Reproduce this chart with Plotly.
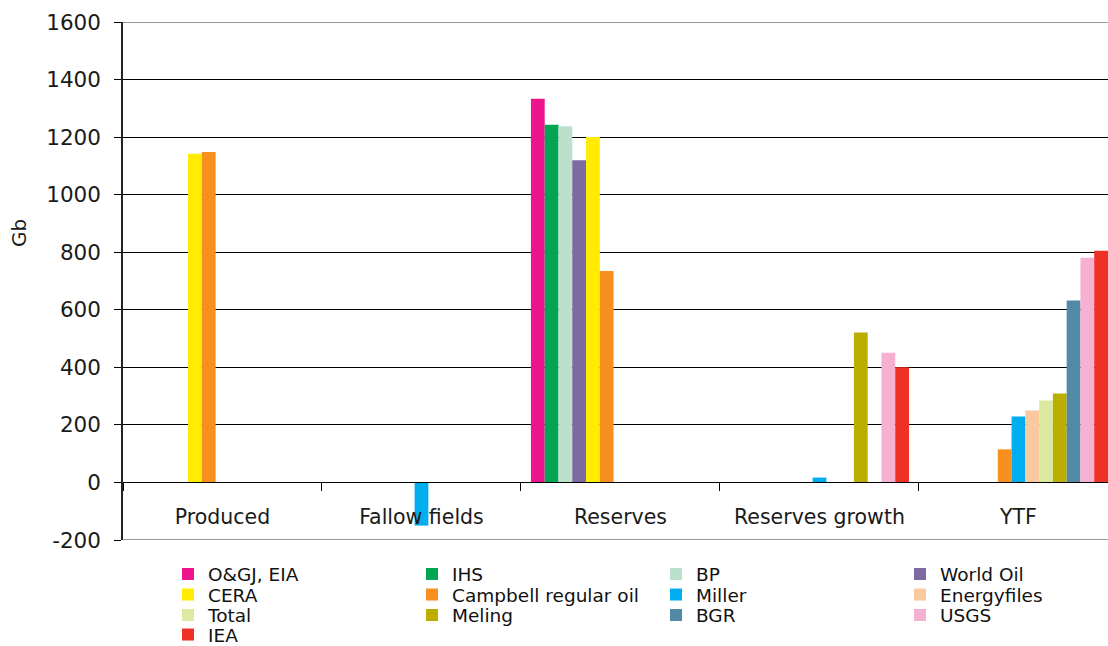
import plotly.graph_objects as go

categories = ["Produced", "Fallow fields", "Reserves", "Reserves growth", "YTF"]

series_names = ["O&GJ, EIA", "IHS", "BP", "World Oil", "CERA", "Campbell regular oil",
                "Miller", "Energyfiles", "Total", "Meling", "BGR", "USGS", "IEA"]

og_eia      = [None, None, 1333, None, None]
ihs         = [None, None, 1243, None, None]
bp          = [None, None, 1238, None, None]
world_oil   = [None, None, 1120, None, None]
cera        = [1142, None, 1200, None, None]
campbell    = [1148, None, 735, None, 115]
miller      = [None, -150, None, 17, 229]
energyfiles = [None, None, None, None, 250]
total       = [None, None, None, None, 285]
meling      = [None, None, None, 521, 309]
bgr         = [None, None, None, None, 632]
usgs        = [None, None, None, 451, 781]
iea         = [None, None, None, 400, 805]

values = [og_eia, ihs, bp, world_oil, cera, campbell, miller,
          energyfiles, total, meling, bgr, usgs, iea]

colors = ["#EC158E", "#00A651", "#BBE0CB", "#7B6BA0", "#FFEC00", "#F7901E",
          "#00AEEF", "#FBC9A0", "#DDE8A0", "#BAAF00", "#528AA5", "#F6B0D2", "#EE3124"]

y_ticks = [-200, 0, 200, 400, 600, 800, 1000, 1200, 1400, 1600]
y_tick_labels = ["-200", "0", "200", "400", "600", "800", "1000", "1200", "1400", "1600"]

FONT = "DejaVu Sans"
W, H = 1108, 646
ML, MT, MB = 123, 22, 106
PW = W - ML
PH = H - MT - MB

legend_ids = ["legend", "legend2", "legend3", "legend4"]

fig = go.Figure()
for i, (name, vals, col) in enumerate(zip(series_names, values, colors)):
    fig.add_trace(go.Bar(
        name=name, x=categories, y=vals, marker_color=col,
        marker_line_width=0, legend=legend_ids[i // 4],
    ))

def lx(px):
    return (px - ML) / PW

def ly(py):
    return (H - MB - py) / PH

legend_tops = [555.5, 576, 596.5, 616]
legend_common = dict(
    orientation="h", entrywidth=199, entrywidthmode="pixels",
    xanchor="left", yanchor="top", bgcolor="rgba(0,0,0,0)",
    font=dict(family=FONT, size=18.5, color="#111"), traceorder="normal",
)
layout_legends = {}
for lid, top in zip(legend_ids, legend_tops):
    layout_legends[lid] = dict(x=lx(168), y=ly(top), **legend_common)

fig.update_layout(
    width=W, height=H,
    margin=dict(l=ML, r=0, t=MT, b=MB, autoexpand=False),
    paper_bgcolor="white", plot_bgcolor="white",
    barmode="group", bargap=0.1, bargroupgap=0,
    showlegend=True,
    font=dict(family=FONT, size=21, color="#1a1a1a"),
    **layout_legends,
)

fig.update_xaxes(
    type="category", categoryorder="array", categoryarray=categories,
    range=[-0.5, 4.45], anchor="free", position=200 / 1800,
    showline=True, linecolor="black", linewidth=1,
    ticks="outside", tickson="boundaries", ticklen=8, tickcolor="black", tickwidth=1,
    showgrid=False, ticklabelstandoff=16, automargin=False,
    tickfont=dict(family=FONT, size=20.5, color="#1a1a1a"),
)
fig.update_yaxes(
    range=[-200, 1600], tickvals=y_ticks, ticktext=y_tick_labels,
    showgrid=True, gridcolor="black", gridwidth=1,
    zeroline=True, zerolinecolor="black", zerolinewidth=1,
    showline=True, linecolor="#222", linewidth=1.5,
    ticks="outside", ticklen=7, tickcolor="black", tickwidth=1,
    ticklabelstandoff=9, automargin=False,
    tickfont=dict(family=FONT, size=21.5, color="#1a1a1a"),
)

# plot-area top and bottom border (gray)
for yv in (1600, -200):
    fig.add_shape(type="line", xref="paper", yref="y", x0=0, x1=1, y0=yv, y1=yv,
                  line=dict(color="#9a9a9a", width=2), layer="above")

fig.add_annotation(
    text="Gb", xref="paper", yref="paper", x=lx(19), y=ly(233),
    showarrow=False, textangle=-90, xanchor="center", yanchor="middle",
    font=dict(family=FONT, size=20, color="#1a1a1a"),
)

fig.write_html("out.html", config={"displayModeBar": False},
               post_script="document.body.style.margin='0';")
